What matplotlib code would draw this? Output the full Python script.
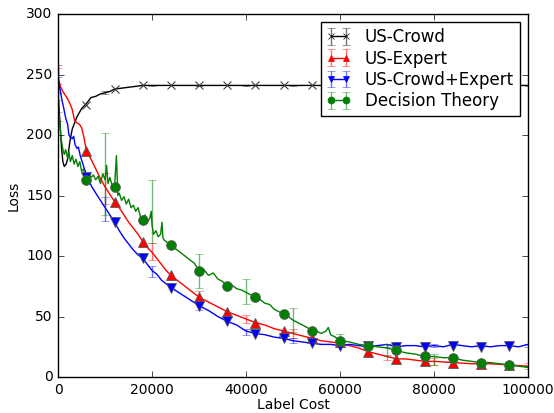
import numpy as np
import matplotlib
matplotlib.use("Agg")
import matplotlib.pyplot as plt

plt.style.use("classic")
plt.rcParams["font.family"] = ["DejaVu Sans"]

# ---- dense curves ----
crowd_x = [0, 300, 700, 1000, 1300, 1700, 2000, 2500, 3000, 3500,
           4000, 5000, 6000, 7000, 8000, 9000, 10000, 11000, 12000, 14000,
           16000, 18000, 100000]
crowd_y = [232, 215, 190, 178, 174, 176, 180, 195, 205, 210,
           215, 222, 226, 231, 232, 234, 235, 236, 238, 239,
           240, 241, 241]

expert_x = [0, 500, 1000, 1500, 2000, 2500, 3000, 3500, 4000, 4500,
            5000, 5500, 6000, 7000, 8000, 9000, 10000, 11000, 12000, 13000,
            14000, 15000, 16000, 17000, 18000, 19000, 20000, 21000, 22000, 23000,
            24000, 26000, 28000, 30000, 32000, 34000, 36000, 38000, 40000, 42000,
            44000, 46000, 48000, 50000, 52000, 54000, 56000, 58000, 60000, 62000,
            64000, 66000, 68000, 70000, 72000, 74000, 76000, 78000, 80000, 84000,
            88000, 92000, 96000, 100000]
expert_y = [247, 240, 236, 233, 230, 226, 221, 212, 210, 209,
            206, 198, 187, 180, 172, 164, 157, 151, 145, 140,
            134, 128, 123, 118, 112, 107, 103, 98, 93, 88,
            84, 78, 72, 66, 62, 58, 54, 51, 48, 45,
            43, 40, 38, 36, 34, 32, 30, 29, 28, 26,
            24, 21, 19, 17, 15, 15, 14, 13, 13, 12,
            11, 11, 10, 9]

both_x = [0, 400, 800, 1200, 1600, 2000, 2300, 2600, 3000, 3300,
          3600, 4000, 4300, 4700, 5100, 5600, 6200, 7200, 8000, 9000,
          10000, 11000, 12000, 13000, 14000, 15000, 16000, 17000, 18000, 19000,
          20000, 21000, 22000, 23000, 24000, 26000, 28000, 30000, 32000, 34000,
          36000, 38000, 40000, 42000, 44000, 46000, 48000, 50000, 52000, 54000,
          56000, 58000, 60000, 62000, 64000, 66000, 68000, 70000, 72000, 74000,
          76000, 78000, 80000, 82000, 84000, 86000, 88000, 90000, 92000, 94000,
          96000, 98000, 100000]
both_y = [245, 238, 229, 222, 214, 209, 200, 198, 197, 199,
          192, 189, 190, 183, 178, 172, 165, 157, 152, 146,
          140, 134, 128, 121, 115, 110, 105, 101, 98, 93,
          88, 85, 80, 77, 74, 69, 64, 59, 55, 50,
          46, 43, 38, 36, 35, 33, 32, 30, 29, 28,
          27, 27, 26, 27, 26, 25, 26, 27, 25, 26,
          26, 25, 26, 25, 27, 26, 25, 26, 25, 26,
          26, 25, 27]

dt_x = [0, 300, 600, 1000, 1300, 1600, 2000, 2300, 2600, 3000,
        3400, 3800, 4200, 4600, 5000, 5400, 5800, 6200, 6600, 7000,
        7500, 8000, 8500, 9000, 9500, 10000, 10300, 10600, 11000, 11500,
        12000, 12400, 12700, 13000, 13500, 14000, 14500, 15000, 15500, 16000,
        16500, 17000, 17500, 18000, 18500, 19000, 19500, 19800, 20000, 20300,
        20800, 21300, 21800, 22100, 22300, 22600, 23000, 23500, 24000, 25000,
        26000, 27000, 28000, 29000, 30000, 31000, 32000, 33000, 34000, 35000,
        36000, 37000, 38000, 39000, 40000, 41000, 42000, 43000, 44000, 45000,
        46000, 47000, 48000, 49000, 50000, 51000, 52000, 53000, 54000, 55000,
        56000, 57000, 57500, 58000, 59000, 60000, 62000, 64000, 66000, 68000,
        70000, 72000, 74000, 76000, 78000, 80000, 82000, 84000, 86000, 88000,
        90000, 92000, 94000, 96000, 98000, 100000]
dt_y = [224, 212, 198, 188, 184, 188, 181, 186, 178, 183,
        176, 180, 174, 178, 170, 172, 166, 163, 168, 165,
        167, 163, 166, 160, 168, 163, 175, 160, 165, 158,
        157, 183, 150, 152, 146, 149, 143, 147, 140, 142,
        137, 140, 133, 130, 134, 128, 131, 137, 125, 118,
        121, 116, 118, 128, 115, 113, 112, 110, 109, 106,
        103, 100, 97, 94, 88, 89, 84, 86, 81, 79,
        75, 76, 73, 72, 70, 68, 66, 64, 61, 60,
        56, 54, 52, 50, 47, 45, 43, 41, 38, 38,
        36, 38, 41, 35, 33, 30, 29, 27, 26, 25,
        24, 22, 20, 19, 17, 17, 16, 16, 14, 13,
        12, 12, 11, 10, 9, 8]

# ---- markers ----
mark_x = [6000, 12000, 18000, 24000, 30000, 36000, 42000, 48000,
          54000, 60000, 66000, 72000, 78000, 84000, 90000, 96000]
crowd_m = [225, 238, 241, 241, 241, 241, 241, 241, 241, 241, 241, 241, 241, 241, 241, 241]
expert_m = [187, 145, 112, 84, 66, 54, 45, 38, 32, 29, 21, 15, 13, 12, 11, 10]
both_m = [165, 128, 98, 74, 59, 46, 36, 32, 28, 26, 26, 25, 25, 26, 25, 26]
dt_m = [163, 157, 130, 109, 88, 75, 66, 52, 38, 30, 26, 22, 17, 16, 12, 10]

# ---- error bars ----
err_x = [0, 10000, 20000, 30000, 40000, 50000, 60000, 70000, 80000, 90000, 100000]
crowd_e = [235, 235, 241, 241, 241, 241, 241, 241, 241, 241, 241]
crowd_err = [23, 1, 0.5, 0.5, 0.5, 0.5, 0.5, 0.5, 0.5, 0.5, 0.5]
expert_e = [245, 156, 104, 66, 48, 36, 28, 16, 13, 11, 10]
expert_err = [10, 13, 7, 5.5, 3, 4, 2, 2, 3, 1.5, 2]
both_e = [245, 139, 87, 59, 37.5, 30, 26, 26, 26, 26, 26]
both_err = [3, 10, 4.5, 3.5, 2.5, 2, 1.5, 1.5, 1.5, 1.5, 1.5]
dt_e = [224, 168, 137, 88, 70.5, 47, 30.5, 22, 14.5, 12, 8]
dt_err = [5, 34, 26, 14, 10.5, 10, 5.5, 5, 4.5, 1.5, 1.5]

labels = ["US-Crowd", "US-Expert", "US-Crowd+Expert", "Decision Theory"]
colors = ["black", "red", "blue", "green"]
markers = ["x", "^", "v", "o"]

fig = plt.figure(figsize=(5.54, 4.13), dpi=100, facecolor="white")
ax = fig.add_axes([0.105, 0.087, 0.848, 0.879])
ax.set_facecolor("white")

series = [
    (crowd_x, crowd_y, crowd_m, crowd_e, crowd_err),
    (expert_x, expert_y, expert_m, expert_e, expert_err),
    (both_x, both_y, both_m, both_e, both_err),
    (dt_x, dt_y, dt_m, dt_e, dt_err),
]

handles = []
for (lx, ly, mm, ee, er), lab, c, mk in zip(series, labels, colors, markers):
    ax.plot(lx, ly, "-", color=c, lw=1.0, zorder=2)
    ax.errorbar(err_x, ee, yerr=er, fmt="none", ecolor=c, alpha=0.55,
                capsize=3, elinewidth=1.0, zorder=2)
    if mk == "x":
        ax.plot(mark_x, mm, linestyle="none", marker=mk, color=c,
                markersize=5.5, mec="0.25", mew=0.8, zorder=3)
    else:
        ax.plot(mark_x, mm, linestyle="none", marker=mk, color=c,
                markersize=7, mec="0.35", mew=0.6, zorder=3)
    h = ax.errorbar([np.nan, np.nan], [np.nan, np.nan], yerr=[1, 1], fmt="-" + mk,
                    color=c, ecolor=c, capsize=3, markersize=5,
                    mec=c)
    for art in h.lines[1] + h.lines[2]:
        art.set_alpha(0.55)
    handles.append(h)

ax.set_xlim(0, 100000)
ax.set_ylim(0, 300)
ax.set_xticks([0, 20000, 40000, 60000, 80000, 100000])
ax.set_yticks([0, 50, 100, 150, 200, 250, 300])
ax.tick_params(labelsize=10)
ax.set_xlabel("Label Cost", fontsize=10, labelpad=1)
ax.set_ylabel("Loss", fontsize=10, labelpad=4)

leg = ax.legend(handles, labels, loc="upper right", numpoints=2,
                fontsize=12, frameon=True, fancybox=False,
                handlelength=1.5, handletextpad=0.8, borderpad=0.35,
                labelspacing=0.2, borderaxespad=0.5)
leg.get_frame().set_edgecolor("black")

fig.savefig("out.png", dpi=100, facecolor="white")
